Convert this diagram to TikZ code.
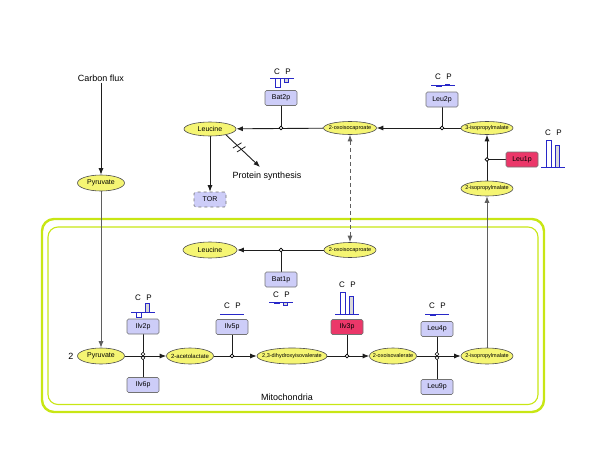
\documentclass[tikz,border=0pt]{standalone}
\usepackage{fontspec}
\setmainfont{Liberation Sans}
\usetikzlibrary{arrows.meta,calc,shapes.geometric}
\pgfdeclarelayer{bg}
\pgfsetlayers{bg,main}
\definecolor{ellfill}{RGB}{245,245,115}
\definecolor{boxfill}{RGB}{205,205,248}
\definecolor{redfill}{RGB}{235,55,105}
\definecolor{mito}{RGB}{200,230,20}
\definecolor{barblue}{RGB}{40,40,200}
\definecolor{edgec}{RGB}{30,30,30}
\definecolor{grayedge}{RGB}{95,95,95}
\newcommand{\zw}[1]{\makebox[0pt]{#1}}
\tikzset{
  met/.style={ellipse, draw=black!70, fill=ellfill, inner sep=0pt, line width=0.6pt, font=\fontsize{7}{8}\selectfont},
  smet/.style={met, font=\fontsize{5.5}{6}\selectfont},
  enz/.style={rectangle, rounded corners=1.5pt, draw=black!55, fill=boxfill, minimum width=32pt, minimum height=15pt, inner sep=0pt, line width=0.6pt, font=\fontsize{7}{8}\selectfont},
  renz/.style={enz, fill=redfill},
  cat/.style={circle, draw=black, fill=white, minimum size=3.8pt, inner sep=0pt, line width=0.6pt},
  tip/.tip={Latex[length=6.5pt,width=5pt]},
  flow/.style={draw=edgec, line width=0.9pt, -tip},
  gflow/.style={flow, draw=grayedge},
  catl/.style={draw=edgec, line width=0.9pt},
  lbl/.style={font=\fontsize{9}{10}\selectfont, inner sep=1pt},
  cplbl/.style={font=\fontsize{8}{9}\selectfont, inner sep=0pt},
  mitoouter/.style={draw=mito, line width=2.4pt, rounded corners=12pt},
  mitoinner/.style={draw=mito, line width=1.1pt, rounded corners=10pt},
}
\newcommand{\cpchart}[5]{%
  \node[cplbl] (cpC#1) at ({#1-5},{#5}) {C};
  \node[cplbl] (cpP#1) at ({#1+6},{#5}) {P};
  \draw[barblue, line width=0.7pt, fill=white] ({#1-7},{#2}) rectangle ({#1-2},{#2-(#3)});
  \draw[barblue, line width=0.7pt, fill=black!15] ({#1+2},{#2}) rectangle ({#1+6},{#2-(#4)});
  \draw[barblue, line width=0.8pt] ({#1-12},{#2}) -- ({#1+12},{#2});
}
\begin{document}
\begin{tikzpicture}[x=1pt,y=-1pt]
\useasboundingbox (0,0) rectangle (600,469);

% metabolites
\node[lbl] (cf) at (101,78) {Carbon flux};
\node[met, minimum width=47pt, minimum height=16pt] (pyrU) at (101,183) {\zw{Pyruvate}};
\node[met, minimum width=47pt, minimum height=16pt] (pyrL) at (101,356) {\zw{Pyruvate}};
\node[lbl] (two) at (71,356) {2};
\node[met, minimum width=52pt, minimum height=14pt] (leuU) at (210,129) {\zw{Leucine}};
\node[smet, minimum width=53pt, minimum height=13pt] (oxoU) at (350,128) {\zw{2-oxoisocaproate}};
\node[smet, minimum width=52pt, minimum height=13pt] (iso3U) at (487,128) {\zw{3-isopropylmalate}};
\node[smet, minimum width=52pt, minimum height=15pt] (iso2U) at (487,188.5) {\zw{2-isopropylmalate}};
\node[enz, dashed] (tor) at (210,199.5) {TOR};
\node[lbl] (psyn) at (267,176) {Protein synthesis};
\coordinate (psend) at (260,167);
\node[met, minimum width=54pt, minimum height=16pt] (leuL) at (210,250) {\zw{Leucine}};
\node[smet, minimum width=52pt, minimum height=15pt] (oxoL) at (350,250) {\zw{2-oxoisocaproate}};
\node[smet, minimum width=47pt, minimum height=16pt, font=\fontsize{6}{7}\selectfont] (acet) at (190,356) {\zw{2-acetolactate}};
\node[smet, minimum width=70pt, minimum height=16pt] (dihy) at (292,356) {\zw{2,3-dihydroxyisovalerate}};
\node[smet, minimum width=47pt, minimum height=16pt] (oxoV) at (393,356) {\zw{2-oxoisovalerate}};
\node[smet, minimum width=52pt, minimum height=16pt] (iso2L) at (487,356) {\zw{2-isopropylmalate}};
\node[lbl] (mitolbl) at (287,397) {Mitochondria};

% enzymes
\node[enz] (bat2) at (281,98) {Bat2p};
\node[enz] (leu2) at (442,99.5) {Leu2p};
\node[renz] (leu1) at (522,159.5) {Leu1p};
\node[enz] (bat1) at (281,279.5) {Bat1p};
\node[enz] (ilv2) at (143,326.5) {Ilv2p};
\node[enz] (ilv6) at (143,385) {Ilv6p};
\node[enz] (ilv5) at (232,327) {Ilv5p};
\node[renz] (ilv3) at (347,327) {Ilv3p};
\node[enz] (leu4) at (437,329) {Leu4p};
\node[enz] (leu9) at (437,387) {Leu9p};

% catalysis circles
\node[cat] (c1) at (281,128) {};
\node[cat] (c2) at (442,128) {};
\node[cat] (c3) at (487,159.5) {};
\node[cat] (c4) at (281,250) {};
\node[cat] (c5a) at (143,354.1) {};
\node[cat] (c5b) at (143,357.9) {};
\node[cat] (c6) at (232,356) {};
\node[cat] (c7) at (347,356) {};
\node[cat] (c8a) at (437,354.1) {};
\node[cat] (c8b) at (437,357.9) {};

\begin{pgfonlayer}{bg}
  \draw[mitoouter] (42,219) rectangle (544,412);
  \draw[mitoinner] (48,227) rectangle (538,404.5);
  % flows
  \draw[flow] (cf.south) -- (pyrU);
  \draw[gflow] (pyrU) -- (pyrL);
  \draw[flow] (oxoU) -- (leuU);
  \draw[flow] (iso3U) -- (oxoU);
  \draw[flow] (iso2U) -- (iso3U);
  \draw[gflow] (iso2L) -- (iso2U);
  \draw[flow] (leuU) -- (tor);
  \draw[flow] (leuU.-20) -- (psend);
  \draw[draw=grayedge, line width=0.9pt, dash pattern=on 4pt off 3pt, tip-tip] (oxoU) -- (oxoL);
  \draw[flow] (oxoL) -- (leuL);
  \draw[flow] (pyrL) -- (acet);
  \draw[flow] (acet) -- (dihy);
  \draw[flow] (dihy) -- (oxoV);
  \draw[flow] (oxoV) -- (iso2L);
  % catalysis
  \draw[catl] (bat2.south) -- (c1);
  \draw[catl] (leu2.south) -- (c2);
  \draw[catl] (leu1.west) -- (c3);
  \draw[catl] (bat1.north) -- (c4);
  \draw[catl] (ilv2.south) -- (c5a);
  \draw[catl] (ilv6.north) -- (c5b);
  \draw[catl] (ilv5.south) -- (c6);
  \draw[catl] (ilv3.south) -- (c7);
  \draw[catl] (leu4.south) -- (c8a);
  \draw[catl] (leu9.north) -- (c8b);
\end{pgfonlayer}

% double slash on protein synthesis edge
\coordinate (m1) at ($(leuU.-20)!0.33!(psend)$);
\coordinate (m2) at ($(leuU.-20)!0.45!(psend)$);
\draw[edgec, line width=0.8pt] ($(m1)!5pt!75:(psend)$) -- ($(m1)!5pt!-105:(psend)$);
\draw[edgec, line width=0.8pt] ($(m2)!5pt!75:(psend)$) -- ($(m2)!5pt!-105:(psend)$);

% C/P expression charts
\cpchart{282}{78}{-9}{-4}{72}
\cpchart{443}{85}{-1}{0.6}{77}
\cpchart{553}{167}{27}{22}{133}
\cpchart{143}{312}{-5}{9}{298}
\cpchart{232}{314}{-0.6}{-0.6}{306}
\cpchart{281}{302}{-1}{-3}{295}
\cpchart{347}{314}{22}{18}{285}
\cpchart{437}{314}{-1}{-0.6}{306}
\end{tikzpicture}
\end{document}
